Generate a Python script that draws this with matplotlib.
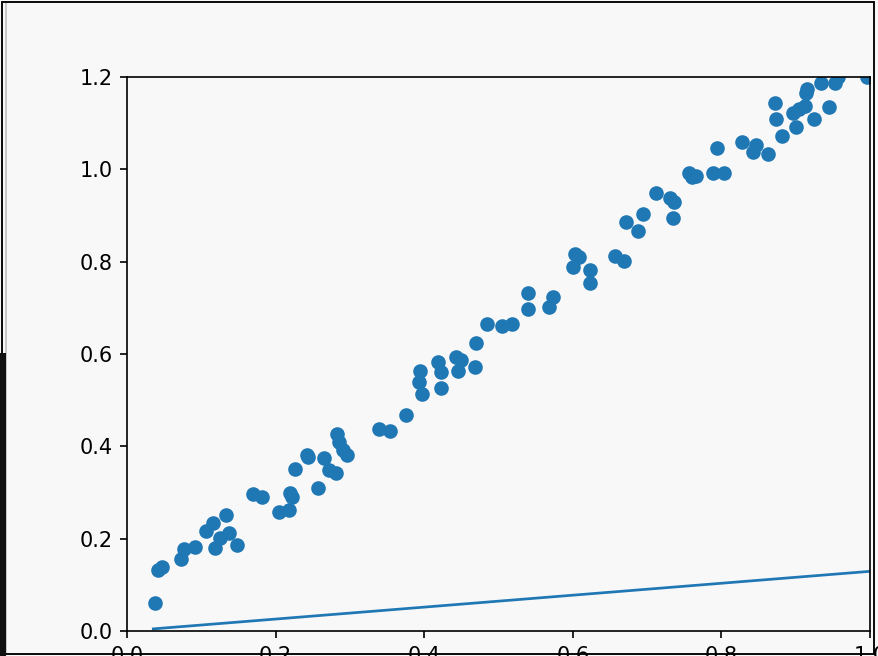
import matplotlib.pyplot as plt
from matplotlib.patches import Rectangle

# Datos (dispersion)
x_vals = [0.0377, 0.0417, 0.0471, 0.0727, 0.0767, 0.0915, 0.1063, 0.1162, 0.1332, 0.1188,
          0.1252, 0.1369, 0.1476, 0.170, 0.182, 0.2046, 0.218, 0.2194, 0.2221, 0.2575,
          0.2261, 0.2427, 0.2440, 0.2655, 0.2723, 0.2813, 0.283, 0.2853, 0.2911, 0.2965,
          0.3392, 0.3544, 0.3755, 0.3948, 0.3934, 0.3974, 0.419, 0.423, 0.4226, 0.4428,
          0.4491, 0.4459, 0.4684, 0.4697, 0.4849, 0.5047, 0.5186, 0.5401, 0.5401, 0.573,
          0.5676, 0.6034, 0.6079, 0.6007, 0.6236, 0.6236, 0.6568, 0.6693, 0.6716, 0.6882,
          0.6949, 0.712, 0.7308, 0.7362, 0.7353, 0.7568, 0.760, 0.7658, 0.7883, 0.8039,
          0.7945, 0.8273, 0.8466, 0.8421, 0.8631, 0.8812, 0.9004, 0.8735, 0.8726, 0.896,
          0.9048, 0.9125, 0.925, 0.9452, 0.9148, 0.9139, 0.934, 0.9529, 0.9573, 0.9956]
y_vals = [0.060, 0.132, 0.138, 0.155, 0.177, 0.181, 0.217, 0.233, 0.251, 0.179,
          0.201, 0.212, 0.186, 0.297, 0.290, 0.257, 0.262, 0.298, 0.290, 0.309,
          0.350, 0.381, 0.376, 0.374, 0.349, 0.342, 0.427, 0.410, 0.392, 0.381,
          0.437, 0.433, 0.467, 0.563, 0.539, 0.513, 0.582, 0.562, 0.526, 0.594,
          0.588, 0.564, 0.571, 0.623, 0.665, 0.661, 0.665, 0.733, 0.697, 0.724,
          0.702, 0.817, 0.811, 0.788, 0.783, 0.753, 0.812, 0.801, 0.887, 0.866,
          0.903, 0.948, 0.937, 0.930, 0.894, 0.991, 0.983, 0.986, 0.991, 0.991,
          1.046, 1.059, 1.053, 1.038, 1.033, 1.072, 1.091, 1.110, 1.143, 1.123,
          1.131, 1.137, 1.110, 1.134, 1.173, 1.165, 1.188, 1.188, 1.201, 1.201]

# Recta dibujada
line_x = [0.0354, 0.998]
line_y = [0.0046, 0.129]

bg = '#f8f8f8'
fig = plt.figure(figsize=(878 / 150, 656 / 150), dpi=150, facecolor=bg)
ax = fig.add_axes([127 / 878, 25 / 656, 743 / 878, 554 / 656], facecolor=bg)

ax.scatter(x_vals, y_vals, color='#1f77b4')
ax.plot(line_x, line_y, color='#1f77b4', lw=1.3)
ax.set_xlim(0, 1)
ax.set_ylim(0, 1.2)

# Marco de la captura
fig.patches.append(Rectangle((2, 2), 872, 652, transform=None, fill=False,
                             edgecolor='black', lw=0.9, zorder=10))
fig.patches.append(Rectangle((5, 2), 2, 651, transform=None, facecolor='#c8c8c8',
                             edgecolor='none', zorder=9))
fig.patches.append(Rectangle((0, 0), 6, 303, transform=None, facecolor='#111111',
                             edgecolor='none', zorder=11))

fig.savefig('out.png', dpi=150, facecolor=bg)
